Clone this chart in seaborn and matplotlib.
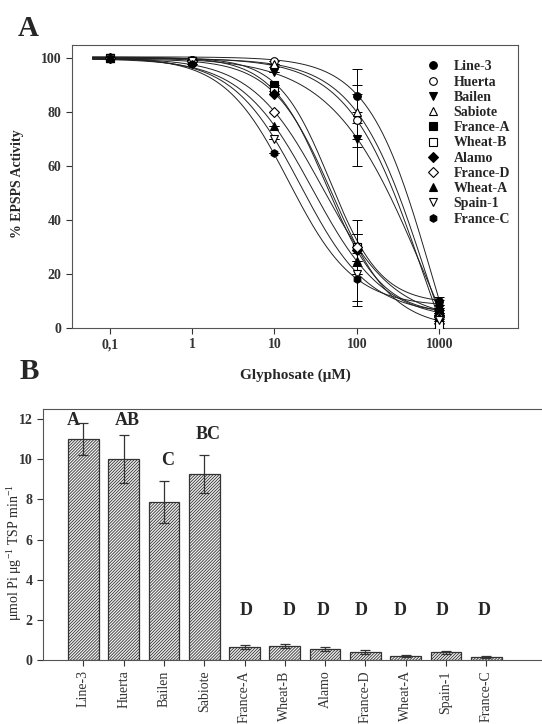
import numpy as np
import pandas as pd
import matplotlib
matplotlib.use("Agg")
import matplotlib.pyplot as plt
from matplotlib.lines import Line2D
import seaborn as sns

# --- data: panel A (dose response, % EPSPS activity) ---
lines = ["Line-3", "Huerta", "Bailen", "Sabiote", "France-A", "Wheat-B",
         "Alamo", "France-D", "Wheat-A", "Spain-1", "France-C"]
doses = [0.1, 1, 10, 100, 1000]
activity = {
    "Line-3":   [100, 99.5, 97, 86, 10],
    "Huerta":   [100, 99.5, 99, 77, 3],
    "Bailen":   [100, 99, 95, 70, 7],
    "Sabiote":  [100, 99.5, 98, 80, 5],
    "France-A": [100, 99, 90, 30, 6],
    "Wheat-B":  [100, 99, 88, 30, 1],
    "Alamo":    [100, 99, 87, 29, 5],
    "France-D": [100, 99, 80, 30, 4],
    "Wheat-A":  [100, 99, 75, 25, 4],
    "Spain-1":  [100, 99, 70, 20, 3],
    "France-C": [100, 98, 65, 18, 9],
}
err_100 = [10, 10, 10, 10, 5, 5, 6, 10, 5, 10, 10]
err_1000 = [1.5, 1, 1.5, 1.5, 1.5, 1, 1.5, 1.5, 1.5, 1.5, 1.5]

# fitted 4-parameter logistic curves (parameters)
ic50 = [800, 640, 660, 690, 47, 50, 43, 39, 29, 21, 15]
hill = [1.13, 0.96, 0.78, 1.01, 1.4, 1.2, 1.3, 1.0, 1.0, 1.05, 1.1]
bottom = [-60, -60, -60, -60, 9, 0, 5, 3, 3, 5, 8]
top = [100.6, 100.2, 100.4, 100, 100.3, 99.8, 100.5, 100.1, 99.9, 100.2, 100.4]

markers = ["o", "o", "v", "^", "s", "s", "D", "D", "^", "v", "h"]
filled = [True, False, True, False, True, False, True, False, True, False, True]

# --- data: panel B (specific activity) ---
cultivars = lines
spec_act = [11.0, 10.0, 7.85, 9.25, 0.65, 0.7, 0.55, 0.38, 0.2, 0.38, 0.15]
spec_err = [0.8, 1.2, 1.05, 0.95, 0.12, 0.1, 0.08, 0.1, 0.05, 0.06, 0.03]
letters = ["A", "AB", "C", "BC", "D", "D", "D", "D", "D", "D", "D"]
letter_y = [11.95, 11.95, 9.95, 11.25, 2.45, 2.45, 2.45, 2.45, 2.45, 2.45, 2.45]
letter_dx = [-0.25, 0.1, 0.1, 0.1, 0.05, 0.1, -0.05, -0.1, -0.15, -0.1, -0.05]

sns.set_style("ticks")
plt.rcParams["font.family"] = ["Liberation Serif", "DejaVu Serif"]
plt.rcParams["mathtext.fontset"] = "custom"
plt.rcParams["mathtext.rm"] = "Liberation Serif"
plt.rcParams["mathtext.default"] = "regular"
plt.rcParams["hatch.linewidth"] = 0.6
plt.rcParams["axes.edgecolor"] = "#555555"
plt.rcParams["xtick.color"] = "#333333"
plt.rcParams["ytick.color"] = "#333333"

fig = plt.figure(figsize=(5.42, 7.24), dpi=100)
axA = fig.add_axes([72/542, 1 - 328/724, 446/542, 283/724])
axB = fig.add_axes([43/542, 1 - 660/724, 503.75/542, 251/724])

# --- panel A ---
xgrid = np.logspace(np.log10(0.062), 3, 300)
rows = []
for i, name in enumerate(lines):
    yfit = bottom[i] + (top[i] - bottom[i]) / (1 + (xgrid / ic50[i]) ** hill[i])
    rows.append(pd.DataFrame({"dose": xgrid, "act": yfit, "line": name}))
curves = pd.concat(rows)
sns.lineplot(data=curves, x="dose", y="act", hue="line",
             palette={n: "#222222" for n in lines}, linewidth=0.7,
             legend=False, ax=axA)

handles = []
for i, name in enumerate(lines):
    yerr = [0, 0, 0, err_100[i], err_1000[i]]
    fc = "black" if filled[i] else "white"
    axA.errorbar(doses, activity[name], yerr=yerr, fmt="none", ecolor="black",
                 elinewidth=0.7, capsize=3.5, capthick=0.7, zorder=3)
    axA.plot(doses, activity[name], linestyle="none", marker=markers[i],
             markersize=5.5, markerfacecolor=fc, markeredgecolor="black",
             markeredgewidth=0.8, zorder=4)
    handles.append(Line2D([], [], linestyle="none", marker=markers[i],
                          markersize=5.5, markerfacecolor=fc,
                          markeredgecolor="black", markeredgewidth=0.8,
                          label=name))

axA.set_xscale("log")
axA.set_xlim(0.035, 9000)
axA.set_ylim(0, 105)
axA.set_xticks(doses)
axA.set_xticklabels(["0,1", "1", "10", "100", "1000"])
axA.minorticks_off()
axA.set_yticks([0, 20, 40, 60, 80, 100])
axA.tick_params(labelsize=10, length=4, width=0.8)
for lab in axA.get_xticklabels() + axA.get_yticklabels():
    lab.set_fontweight("bold")
axA.set_xlabel("Glyphosate (\u03bcM)", fontsize=11, fontweight="bold", labelpad=12)
axA.set_ylabel("% EPSPS Activity", fontsize=10, fontweight="bold")
axA.yaxis.set_label_coords(-0.108, 0.509)
leg = axA.legend(handles=handles, loc="upper left", bbox_to_anchor=(0.765, 0.99),
                 frameon=False, handlelength=1.0, handletextpad=1.0,
                 labelspacing=0.16, prop={"family": "Liberation Serif",
                                          "weight": "bold", "size": 10})

# --- panel B ---
dfB = pd.DataFrame({"cultivar": cultivars, "act": spec_act})
sns.barplot(data=dfB, x="cultivar", y="act", color="#f2f2f2", edgecolor="#333333",
            linewidth=0.9, width=0.76, ax=axB)
for p in axB.patches:
    p.set_hatch("///////////")
axB.errorbar(range(len(cultivars)), spec_act, yerr=spec_err, fmt="none",
             ecolor="#333333", elinewidth=0.9, capsize=3.5, capthick=0.9)
for i, t in enumerate(letters):
    axB.text(i + letter_dx[i], letter_y[i], t, ha="center", va="center",
             fontsize=13, fontweight="bold")

axB.set_xlim(-1, 11.5)
axB.set_ylim(0, 12.5)
axB.set_yticks([0, 2, 4, 6, 8, 10, 12])
axB.tick_params(axis="y", labelsize=10, length=4, width=0.8)
axB.tick_params(axis="x", labelsize=10, length=4, width=0.8, rotation=90)
for lab in axB.get_yticklabels():
    lab.set_fontweight("bold")
axB.set_xlabel("")
axB.set_ylabel("\u03bcmol Pi \u03bcg$^{-1}$ TSP min$^{-1}$", fontsize=10)
axB.yaxis.set_label_coords(-0.038, 0.43)
sns.despine(ax=axB, right=True, top=False)

fig.text(18/542, 1 - 28/724, "A", fontsize=21, fontweight="bold", va="center")
fig.text(20/542, 1 - 371/724, "B", fontsize=21, fontweight="bold", va="center")

fig.savefig("out.png", dpi=100)
